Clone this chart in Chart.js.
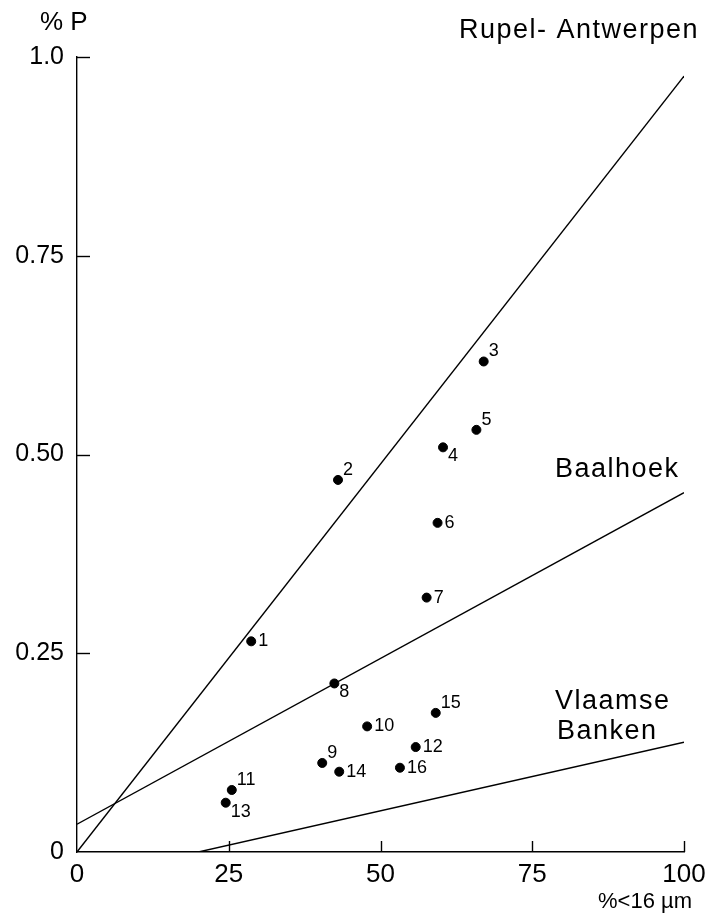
<!DOCTYPE html>
<html>
<head>
<meta charset="utf-8">
<script src="https://cdn.jsdelivr.net/npm/chart.js@4.4.1/dist/chart.umd.min.js"></script>
<style>
  html, body { margin: 0; padding: 0; background: #fff; }
  #wrap { width: 707px; height: 922px; }
</style>
</head>
<body>
<div id="wrap"><canvas id="pChart" width="707" height="922"></canvas></div>
<script>
/* Data */
let sampleIds = ['1', '2', '3', '4', '5', '6', '7', '8', '9', '10', '11', '12', '13', '14', '15', '16'];
let finePct = [28.7, 43.0, 67.0, 60.3, 65.8, 59.4, 57.6, 42.4, 40.4, 47.8, 25.5, 55.8, 24.5, 43.2, 59.1, 53.2];
let phosPct = [0.265, 0.468, 0.617, 0.509, 0.531, 0.414, 0.32, 0.212, 0.112, 0.158, 0.078, 0.132, 0.062, 0.101, 0.175, 0.106];

// reference lines: [x, y] end points
let rupelLine = [[0, 0], [100, 0.976]];
let baalhoekLine = [[0, 0.035], [100, 0.452]];
let vlaamseLine = [[20, 0], [100, 0.138]];

let xTicks = [0, 25, 50, 75, 100];
let yTicks = [0, 0.25, 0.5, 0.75, 1.0];
let yTickLabels = ['0', '0.25', '0.50', '0.75', '1.0'];

let narrowFont = "'Liberation Sans Narrow', 'Liberation Sans', sans-serif";
let plainFont = "'Liberation Sans', 'DejaVu Sans', sans-serif";

// where each sample number sits relative to its dot
let labelSide = ['e', 'ne', 'ne', 'se', 'ne', 'e', 'e', 'se', 'ne', 'e', 'ne', 'e', 'se', 'e', 'ne', 'e'];

function toXY(pairs) {
  return pairs.map(p => ({ x: p[0], y: p[1] }));
}

function lineSet(label, pairs) {
  return {
    type: 'line',
    label: label,
    data: toXY(pairs),
    borderColor: '#000',
    borderWidth: 1.4,
    pointRadius: 0,
    fill: false,
    tension: 0,
  };
}

//-----------------------------------------------//
/* small helper plugin: inward ticks + texts */
//-----------------------------------------------//
const decorPlugin = {
  id: 'decor',
  afterDraw(chart) {
    const ctx = chart.ctx;
    const xs = chart.scales.x;
    const ys = chart.scales.y;
    const area = chart.chartArea;
    ctx.save();
    ctx.strokeStyle = '#000';
    ctx.lineWidth = 1.4;

    // inward ticks
    yTicks.slice(1).forEach(v => {
      const py = Math.round(ys.getPixelForValue(v)) + 0.5;
      ctx.beginPath();
      ctx.moveTo(area.left, py);
      ctx.lineTo(area.left + 13, py);
      ctx.stroke();
    });
    xTicks.slice(1).forEach(v => {
      const px = Math.round(xs.getPixelForValue(v)) + 0.5;
      ctx.beginPath();
      ctx.moveTo(px, area.bottom);
      ctx.lineTo(px, area.bottom - 11);
      ctx.stroke();
    });

    // sample numbers
    const meta = chart.getDatasetMeta(0);
    ctx.fillStyle = '#000';
    ctx.font = '18px ' + narrowFont;
    ctx.textAlign = 'left';
    meta.data.forEach((pt, i) => {
      let dx = 7, dy = 0;
      if (labelSide[i] === 'ne') { dx = 5; dy = -10; }
      if (labelSide[i] === 'se') { dx = 5; dy = 9; }
      ctx.textBaseline = 'middle';
      ctx.fillText(sampleIds[i], pt.x + dx, pt.y + dy);
    });

    // line names
    ctx.font = '27px ' + plainFont;
    ctx.textBaseline = 'alphabetic';
    ctx.letterSpacing = '1.5px';
    ctx.fillText('Rupel- Antwerpen', 459, 38);
    ctx.fillText('Baalhoek', 555, 477);
    ctx.fillText('Vlaamse', 555, 709);
    ctx.fillText('Banken', 557, 739);

    // axis titles
    ctx.letterSpacing = '0px';
    ctx.font = '26px ' + narrowFont;
    ctx.fillText('% P', 40, 30);
    ctx.font = '22px ' + narrowFont;
    ctx.fillText('%<16 \u00b5m', 598, 908);
    ctx.restore();
  },
};

function pChart() {
  let ctx = document.getElementById('pChart').getContext('2d');
  let chart = new Chart(ctx, {
    data: {
      datasets: [
        {
          type: 'scatter',
          label: 'samples',
          data: finePct.map((v, i) => ({ x: v, y: phosPct[i] })),
          backgroundColor: '#000',
          borderColor: '#000',
          pointRadius: 4.5,
          pointHoverRadius: 4.5,
        },
        lineSet('Rupel-Antwerpen', rupelLine),
        lineSet('Baalhoek', baalhoekLine),
        lineSet('Vlaamse Banken', vlaamseLine),
      ],
    },
    options: {
      responsive: false,
      animation: false,
      events: [],
      layout: {
        padding: { top: 57, right: 23, left: 0, bottom: 0 },
      },
      plugins: {
        legend: { display: false },
        tooltip: { enabled: false },
      },
      scales: {
        x: {
          type: 'linear',
          min: 0,
          max: 100,
          afterFit: s => { s.height = 70; s.paddingLeft = 0; s.paddingRight = 0; },
          afterBuildTicks: s => { s.ticks = xTicks.map(v => ({ value: v })); },
          grid: { display: false, drawTicks: false },
          border: { display: true, color: '#000', width: 1.4 },
          ticks: {
            padding: 7,
            color: '#000',
            font: { family: narrowFont, size: 26 },
          },
        },
        y: {
          type: 'linear',
          min: 0,
          max: 1,
          afterFit: s => { s.width = 77; s.paddingTop = 0; s.paddingBottom = 0; },
          afterBuildTicks: s => { s.ticks = yTicks.map(v => ({ value: v })); },
          grid: { display: false, drawTicks: false },
          border: { display: true, color: '#000', width: 1.4 },
          ticks: {
            padding: 13,
            color: '#000',
            font: { family: narrowFont, size: 25 },
            callback: function (value) {
              let i = yTicks.indexOf(value);
              return i >= 0 ? yTickLabels[i] : '';
            },
          },
        },
      },
    },
    plugins: [decorPlugin],
  });
}

pChart();
</script>
</body>
</html>
